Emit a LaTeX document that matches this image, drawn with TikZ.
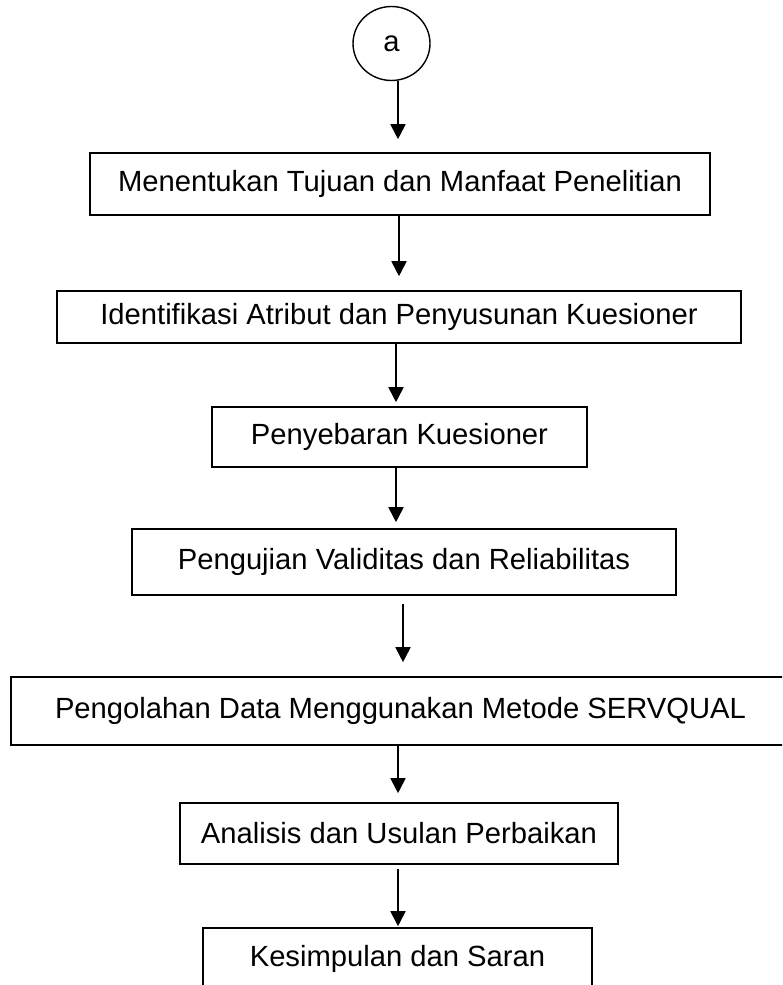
\documentclass[tikz,border=0pt]{standalone}
\usepackage{fontspec}
\setmainfont{Liberation Sans}
\usetikzlibrary{arrows.meta,shapes.geometric}
\tikzset{
  stepbox/.style={draw=black, line width=1.6pt, rectangle, inner sep=0pt, align=center,
    font=\fontsize{29.2}{35}\selectfont},
  conn/.style={line width=1.8pt, -{Triangle[length=15pt,width=15pt]}},
}
\begin{document}
\begin{tikzpicture}[x=1pt,y=-1pt]
\useasboundingbox (0,0) rectangle (782,985);
\clip (0,0) rectangle (782,985);
\fill[white] (0,0) rectangle (782,985);
% start connector
\node[ellipse, draw=black, line width=1.4pt, minimum width=77pt, minimum height=74pt, inner sep=0pt,
  font=\fontsize{29.2}{35}\selectfont] (c) at (391.5,43.5) {a};
\node[stepbox, minimum width=620pt, minimum height=62pt] (b1) at (400,184) {Menentukan Tujuan dan Manfaat Penelitian};
\node[stepbox, minimum width=684pt, minimum height=52pt] (b2) at (399,317) {Identifikasi Atribut dan Penyusunan Kuesioner};
\node[stepbox, minimum width=375pt, minimum height=60pt] (b3) at (399.5,437) {Penyebaran Kuesioner};
\node[stepbox, minimum width=544pt, minimum height=66pt] (b4) at (404,562) {Pengujian Validitas dan Reliabilitas};
\node[stepbox, minimum width=779pt, minimum height=68pt] (b5) at (400.5,711) {Pengolahan Data Menggunakan Metode SERVQUAL};
\node[stepbox, minimum width=438pt, minimum height=61pt] (b6) at (399,833.5) {Analisis dan Usulan Perbaikan};
\node[stepbox, minimum width=389pt, minimum height=62pt] (b7) at (397.5,959) {Kesimpulan dan Saran};
% arrow columns
\coordinate (x1) at (398,0);
\coordinate (x2) at (399,0);
\coordinate (x3) at (396,0);
\coordinate (x4) at (396,0);
\coordinate (x5) at (403,0);
\coordinate (x6) at (398,0);
\coordinate (x7) at (398,0);
\draw[conn] (c.south -| x1) -- ([yshift=13pt]b1.north -| x1);
\draw[conn] (b1.south -| x2) -- ([yshift=14pt]b2.north -| x2);
\draw[conn] (b2.south -| x3) -- ([yshift=4pt]b3.north -| x3);
\draw[conn] (b3.south -| x4) -- ([yshift=6pt]b4.north -| x4);
\draw[conn] ([yshift=-8pt]b4.south -| x5) -- ([yshift=14pt]b5.north -| x5);
\draw[conn] (b5.south -| x6) -- ([yshift=9pt]b6.north -| x6);
\draw[conn] ([yshift=-4pt]b6.south -| x7) -- ([yshift=1pt]b7.north -| x7);
\end{tikzpicture}
\end{document}
